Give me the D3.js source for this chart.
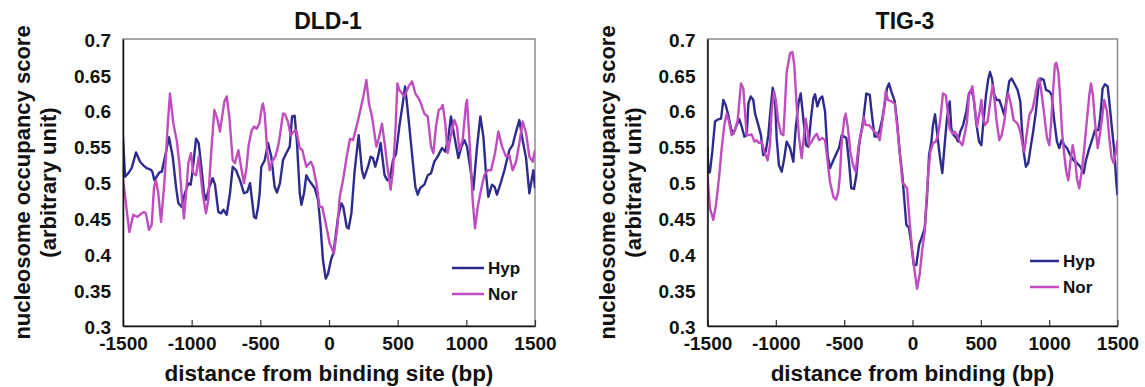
<!DOCTYPE html>
<html>
<head>
<meta charset="utf-8">
<script src="https://cdn.jsdelivr.net/npm/d3@7"></script>
<style>
  body { margin: 0; background: #fff; }
  svg text { font-family: "Liberation Sans", Arial, Helvetica, sans-serif; font-weight: bold; fill: #111; }
</style>
</head>
<body>
<svg id="chart" width="1145" height="387"></svg>
<script>
const xTicks = [-1500, -1000, -500, 0, 500, 1000, 1500];
const xTickLabels = ['-1500', '-1000', '-500', '0', '500', '1000', '1500'];
const yTicks = [0.3, 0.35, 0.4, 0.45, 0.5, 0.55, 0.6, 0.65, 0.7];
const yTickLabels = ['0.3', '0.35', '0.4', '0.45', '0.5', '0.55', '0.6', '0.65', '0.7'];
const seriesNames = ['Hyp', 'Nor'];
const seriesColors = ['#2e2b8f', '#c04cc0'];

// DLD-1
const dldHypBp = [-1500,-1485,-1461,-1437,-1405,-1376,-1352,-1328,-1299,-1286,-1272,-1255,-1235,-1218,-1194,-1165,-1138,-1114,-1097,-1073,-1049,-1024,-1007,-993,-968,-949,-927,-910,-896,-871,-847,-830,-806,-786,-769,-745,-721,-701,-677,-648,-619,-595,-575,-546,-532,-517,-505,-493,-468,-444,-420,-396,-379,-357,-335,-311,-286,-269,-250,-233,-213,-201,-182,-165,-146,-129,-104,-80,-61,-44,-24,-7,17,32,66,90,104,129,143,163,187,216,240,255,284,303,320,337,357,376,405,425,444,466,488,512,537,554,568,585,609,629,646,663,694,719,743,767,791,823,847,871,888,913,942,964,986,1005,1027,1051,1078,1102,1124,1143,1160,1187,1206,1223,1253,1277,1313,1337,1362,1386,1410,1435,1459,1488,1500];
const dldHyp = [0.563,0.508,0.513,0.520,0.542,0.529,0.524,0.520,0.518,0.515,0.503,0.508,0.514,0.515,0.536,0.563,0.536,0.494,0.471,0.466,0.485,0.499,0.497,0.517,0.561,0.555,0.517,0.485,0.476,0.494,0.506,0.497,0.459,0.457,0.462,0.455,0.485,0.522,0.517,0.503,0.485,0.487,0.499,0.452,0.450,0.465,0.485,0.522,0.531,0.555,0.536,0.494,0.486,0.499,0.531,0.541,0.550,0.592,0.593,0.555,0.485,0.469,0.485,0.510,0.503,0.499,0.492,0.476,0.438,0.392,0.366,0.373,0.394,0.401,0.452,0.471,0.466,0.438,0.436,0.457,0.517,0.566,0.517,0.506,0.522,0.536,0.534,0.522,0.536,0.555,0.510,0.503,0.506,0.531,0.540,0.578,0.610,0.634,0.610,0.578,0.531,0.494,0.483,0.492,0.497,0.510,0.513,0.529,0.536,0.548,0.543,0.566,0.592,0.564,0.534,0.550,0.559,0.550,0.522,0.490,0.550,0.592,0.564,0.513,0.480,0.497,0.494,0.483,0.501,0.517,0.545,0.552,0.571,0.587,0.559,0.534,0.485,0.517,0.492];
const dldNorBp = [-1500,-1454,-1425,-1396,-1371,-1347,-1333,-1311,-1291,-1274,-1260,-1243,-1223,-1199,-1175,-1158,-1133,-1109,-1090,-1070,-1056,-1041,-1024,-1005,-988,-968,-949,-920,-896,-879,-862,-835,-813,-794,-762,-745,-726,-701,-685,-660,-636,-619,-600,-585,-563,-544,-527,-507,-488,-481,-468,-449,-432,-415,-391,-371,-357,-335,-323,-299,-279,-255,-238,-214,-194,-165,-133,-116,-92,-68,-49,-24,5,36,61,78,102,129,153,175,194,218,250,272,291,313,345,362,386,405,425,449,466,485,498,512,549,580,605,629,653,670,694,719,743,760,779,799,816,828,847,864,888,913,932,949,973,998,1005,1027,1046,1063,1083,1107,1131,1155,1180,1209,1233,1260,1289,1313,1337,1362,1386,1410,1435,1459,1483,1500];
const dldNor = [0.505,0.431,0.455,0.452,0.456,0.459,0.457,0.434,0.441,0.494,0.503,0.485,0.445,0.499,0.578,0.624,0.582,0.559,0.527,0.476,0.450,0.485,0.527,0.541,0.513,0.510,0.536,0.485,0.457,0.476,0.531,0.601,0.589,0.571,0.613,0.620,0.592,0.531,0.527,0.545,0.517,0.499,0.522,0.552,0.573,0.578,0.575,0.582,0.606,0.610,0.596,0.541,0.517,0.529,0.536,0.550,0.566,0.596,0.596,0.585,0.566,0.571,0.573,0.548,0.545,0.522,0.529,0.522,0.499,0.466,0.466,0.443,0.415,0.401,0.438,0.480,0.503,0.536,0.561,0.559,0.573,0.592,0.620,0.643,0.610,0.592,0.550,0.561,0.582,0.555,0.522,0.490,0.517,0.578,0.638,0.629,0.620,0.634,0.641,0.624,0.617,0.610,0.596,0.592,0.550,0.541,0.578,0.601,0.603,0.608,0.582,0.541,0.566,0.587,0.578,0.545,0.559,0.610,0.615,0.545,0.476,0.436,0.466,0.490,0.510,0.517,0.517,0.541,0.571,0.550,0.536,0.538,0.517,0.529,0.555,0.585,0.569,0.536,0.529,0.545];

// TIG-3
const tigHypBp = [-1500,-1494,-1482,-1465,-1445,-1421,-1401,-1384,-1367,-1348,-1328,-1311,-1287,-1267,-1250,-1230,-1213,-1201,-1184,-1165,-1152,-1128,-1109,-1092,-1074,-1055,-1040,-1023,-1006,-994,-977,-957,-938,-921,-896,-872,-855,-835,-818,-799,-779,-762,-743,-726,-713,-696,-677,-660,-640,-621,-604,-579,-555,-538,-518,-484,-465,-448,-428,-411,-391,-374,-357,-338,-313,-294,-277,-260,-240,-221,-204,-187,-172,-155,-130,-113,-94,-74,-57,-45,-26,-8,9,28,48,65,89,106,121,138,150,165,179,199,218,235,252,272,284,301,321,333,350,370,394,413,431,448,467,487,504,521,538,555,567,581,599,616,635,652,672,691,708,725,745,769,789,799,813,830,847,867,886,903,920,940,960,977,1001,1018,1038,1057,1074,1091,1111,1130,1155,1179,1203,1228,1252,1269,1294,1318,1335,1360,1374,1391,1408,1428,1440,1457,1477,1489,1500];
const tigHyp = [0.550,0.513,0.515,0.543,0.585,0.588,0.589,0.615,0.608,0.594,0.575,0.568,0.580,0.588,0.578,0.564,0.566,0.610,0.620,0.615,0.596,0.580,0.566,0.538,0.543,0.566,0.599,0.632,0.617,0.562,0.524,0.515,0.534,0.557,0.548,0.529,0.575,0.610,0.624,0.589,0.552,0.550,0.589,0.617,0.623,0.606,0.617,0.620,0.599,0.538,0.520,0.531,0.541,0.548,0.566,0.562,0.529,0.492,0.491,0.510,0.552,0.571,0.592,0.624,0.622,0.589,0.564,0.564,0.573,0.589,0.608,0.631,0.638,0.627,0.613,0.585,0.543,0.510,0.469,0.441,0.437,0.413,0.385,0.385,0.413,0.422,0.436,0.478,0.538,0.557,0.580,0.595,0.571,0.538,0.513,0.552,0.589,0.613,0.575,0.566,0.562,0.557,0.571,0.580,0.599,0.624,0.629,0.617,0.582,0.557,0.552,0.589,0.622,0.645,0.654,0.645,0.622,0.615,0.615,0.606,0.594,0.620,0.641,0.645,0.638,0.629,0.613,0.580,0.543,0.522,0.527,0.552,0.575,0.599,0.631,0.645,0.643,0.629,0.627,0.622,0.585,0.557,0.548,0.559,0.552,0.548,0.538,0.531,0.527,0.522,0.513,0.531,0.548,0.562,0.573,0.573,0.592,0.631,0.637,0.634,0.613,0.580,0.543,0.506,0.482];
const tigNorBp = [-1500,-1482,-1457,-1438,-1416,-1396,-1377,-1360,-1343,-1323,-1299,-1279,-1267,-1255,-1238,-1226,-1213,-1194,-1177,-1157,-1140,-1123,-1104,-1084,-1060,-1043,-1031,-1013,-999,-982,-962,-945,-933,-921,-896,-879,-865,-848,-830,-811,-799,-782,-767,-757,-738,-718,-701,-684,-660,-640,-621,-604,-579,-560,-543,-531,-518,-499,-489,-472,-455,-435,-416,-399,-382,-367,-357,-343,-318,-294,-277,-260,-240,-228,-211,-196,-179,-155,-130,-113,-94,-74,-57,-40,-21,-1,16,33,52,72,89,101,116,131,150,170,187,204,223,243,260,272,292,309,326,345,365,382,399,413,438,455,472,492,504,513,530,550,569,586,599,616,635,652,672,691,701,721,740,769,789,806,818,838,855,879,899,916,928,940,964,984,1001,1013,1030,1042,1052,1067,1081,1094,1111,1125,1140,1155,1172,1189,1203,1220,1238,1257,1277,1294,1306,1320,1335,1355,1367,1384,1403,1423,1440,1457,1472,1489,1500];
const tigNor = [0.510,0.464,0.448,0.469,0.506,0.548,0.580,0.596,0.585,0.566,0.573,0.587,0.613,0.638,0.631,0.599,0.566,0.566,0.567,0.557,0.559,0.555,0.557,0.543,0.531,0.552,0.599,0.627,0.613,0.585,0.568,0.566,0.608,0.654,0.680,0.682,0.664,0.608,0.562,0.534,0.557,0.589,0.571,0.552,0.557,0.564,0.568,0.559,0.562,0.559,0.529,0.501,0.480,0.476,0.487,0.510,0.557,0.589,0.596,0.575,0.543,0.524,0.515,0.543,0.566,0.575,0.592,0.580,0.580,0.575,0.570,0.568,0.559,0.575,0.599,0.627,0.615,0.613,0.610,0.580,0.543,0.501,0.496,0.492,0.445,0.404,0.376,0.352,0.371,0.408,0.431,0.473,0.515,0.543,0.555,0.557,0.566,0.589,0.624,0.622,0.594,0.575,0.568,0.571,0.566,0.557,0.552,0.568,0.585,0.622,0.634,0.606,0.578,0.599,0.615,0.594,0.580,0.585,0.613,0.636,0.617,0.585,0.559,0.566,0.585,0.617,0.624,0.608,0.587,0.582,0.571,0.552,0.543,0.571,0.594,0.603,0.622,0.641,0.645,0.631,0.594,0.562,0.552,0.580,0.631,0.664,0.667,0.654,0.617,0.571,0.538,0.515,0.503,0.529,0.552,0.534,0.506,0.492,0.515,0.548,0.589,0.622,0.638,0.622,0.585,0.548,0.562,0.585,0.615,0.599,0.562,0.534,0.527,0.543,0.559];

const panels = [
  {
    title: 'DLD-1', titleX: 328, xTitle: 'distance from binding site (bp)',
    left: 123, right: 535, top: 39, bottom: 326,
    legend: {x0: 452, x1: 484, tx: 488, y: 268},
    series: [{bp: dldHypBp, v: dldHyp}, {bp: dldNorBp, v: dldNor}]
  },
  {
    title: 'TIG-3', titleX: 905, xTitle: 'distance from binding (bp)',
    left: 707.5, right: 1117.5, top: 39, bottom: 326,
    legend: {x0: 1030, x1: 1059, tx: 1063, y: 261},
    series: [{bp: tigHypBp, v: tigHyp}, {bp: tigNorBp, v: tigNor}]
  }
];

const svg = d3.select('#chart');

panels.forEach((p, pi) => {
  const x = d3.scaleLinear().domain([-1500, 1500]).range([p.left, p.right]);
  const y = d3.scaleLinear().domain([0.3, 0.7]).range([p.bottom, p.top]);
  const g = svg.append('g');

  g.append('clipPath').attr('id', 'clip' + pi)
    .append('rect')
    .attr('x', p.left).attr('y', p.top)
    .attr('width', p.right - p.left).attr('height', p.bottom - p.top);

  // frame (grey top/right)
  g.append('rect')
    .attr('x', p.left).attr('y', p.top)
    .attr('width', p.right - p.left).attr('height', p.bottom - p.top)
    .attr('fill', 'none').attr('stroke', '#8c8c8c').attr('stroke-width', 1.5);

  const line = d3.line().x(d => x(d[0])).y(d => y(d[1]));
  p.series.forEach((s, si) => {
    g.append('path')
      .datum(s.bp.map((b, i) => [b, s.v[i]]))
      .attr('clip-path', `url(#clip${pi})`)
      .attr('fill', 'none')
      .attr('stroke', seriesColors[si])
      .attr('stroke-width', 2.4)
      .attr('stroke-linejoin', 'round')
      .attr('d', line);
  });

  const xAxis = g.append('g')
    .attr('transform', `translate(0,${p.bottom})`)
    .call(d3.axisBottom(x).tickValues(xTicks).tickSizeInner(-6).tickSizeOuter(0).tickPadding(11)
      .tickFormat((d, i) => xTickLabels[i]));
  xAxis.select('.domain').attr('stroke', '#111').attr('stroke-width', 1.5);
  xAxis.selectAll('.tick line').attr('stroke', '#333').attr('stroke-width', 1.2);
  xAxis.selectAll('.tick text').attr('font-size', 19).attr('fill', '#111')
    .style('font-family', '"Liberation Sans", Arial, sans-serif').style('font-weight', 'bold');

  const yAxis = g.append('g')
    .attr('transform', `translate(${p.left},0)`)
    .call(d3.axisLeft(y).tickValues(yTicks).tickSize(0).tickPadding(12)
      .tickFormat((d, i) => yTickLabels[i]));
  yAxis.select('.domain').attr('stroke', '#111').attr('stroke-width', 1.5);
  yAxis.selectAll('.tick text').attr('font-size', 19).attr('fill', '#111').attr('dy', '0.38em')
    .style('font-family', '"Liberation Sans", Arial, sans-serif').style('font-weight', 'bold');

  g.append('text')
    .attr('x', p.titleX).attr('y', 29)
    .attr('text-anchor', 'middle').attr('font-size', 23)
    .text(p.title);

  g.append('text')
    .attr('x', (p.left + p.right) / 2).attr('y', 381)
    .attr('text-anchor', 'middle').attr('font-size', 22.5)
    .text(p.xTitle);

  const yMid = (p.top + p.bottom) / 2;
  const yt = g.append('text')
    .attr('transform', `translate(${p.left - 93},${yMid}) rotate(-90)`)
    .attr('text-anchor', 'middle').attr('font-size', 22);
  yt.append('tspan').attr('x', 0).attr('y', 0).text('nucleosome occupancy score');
  yt.append('tspan').attr('x', 0).attr('y', 26).text('(arbitrary unit)');

  seriesNames.forEach((name, si) => {
    const ly = p.legend.y + si * 26;
    g.append('line')
      .attr('x1', p.legend.x0).attr('x2', p.legend.x1)
      .attr('y1', ly).attr('y2', ly)
      .attr('stroke', seriesColors[si]).attr('stroke-width', 2.5);
    g.append('text')
      .attr('x', p.legend.tx).attr('y', ly + 6)
      .attr('font-size', 17)
      .text(name);
  });
});
</script>
</body>
</html>
